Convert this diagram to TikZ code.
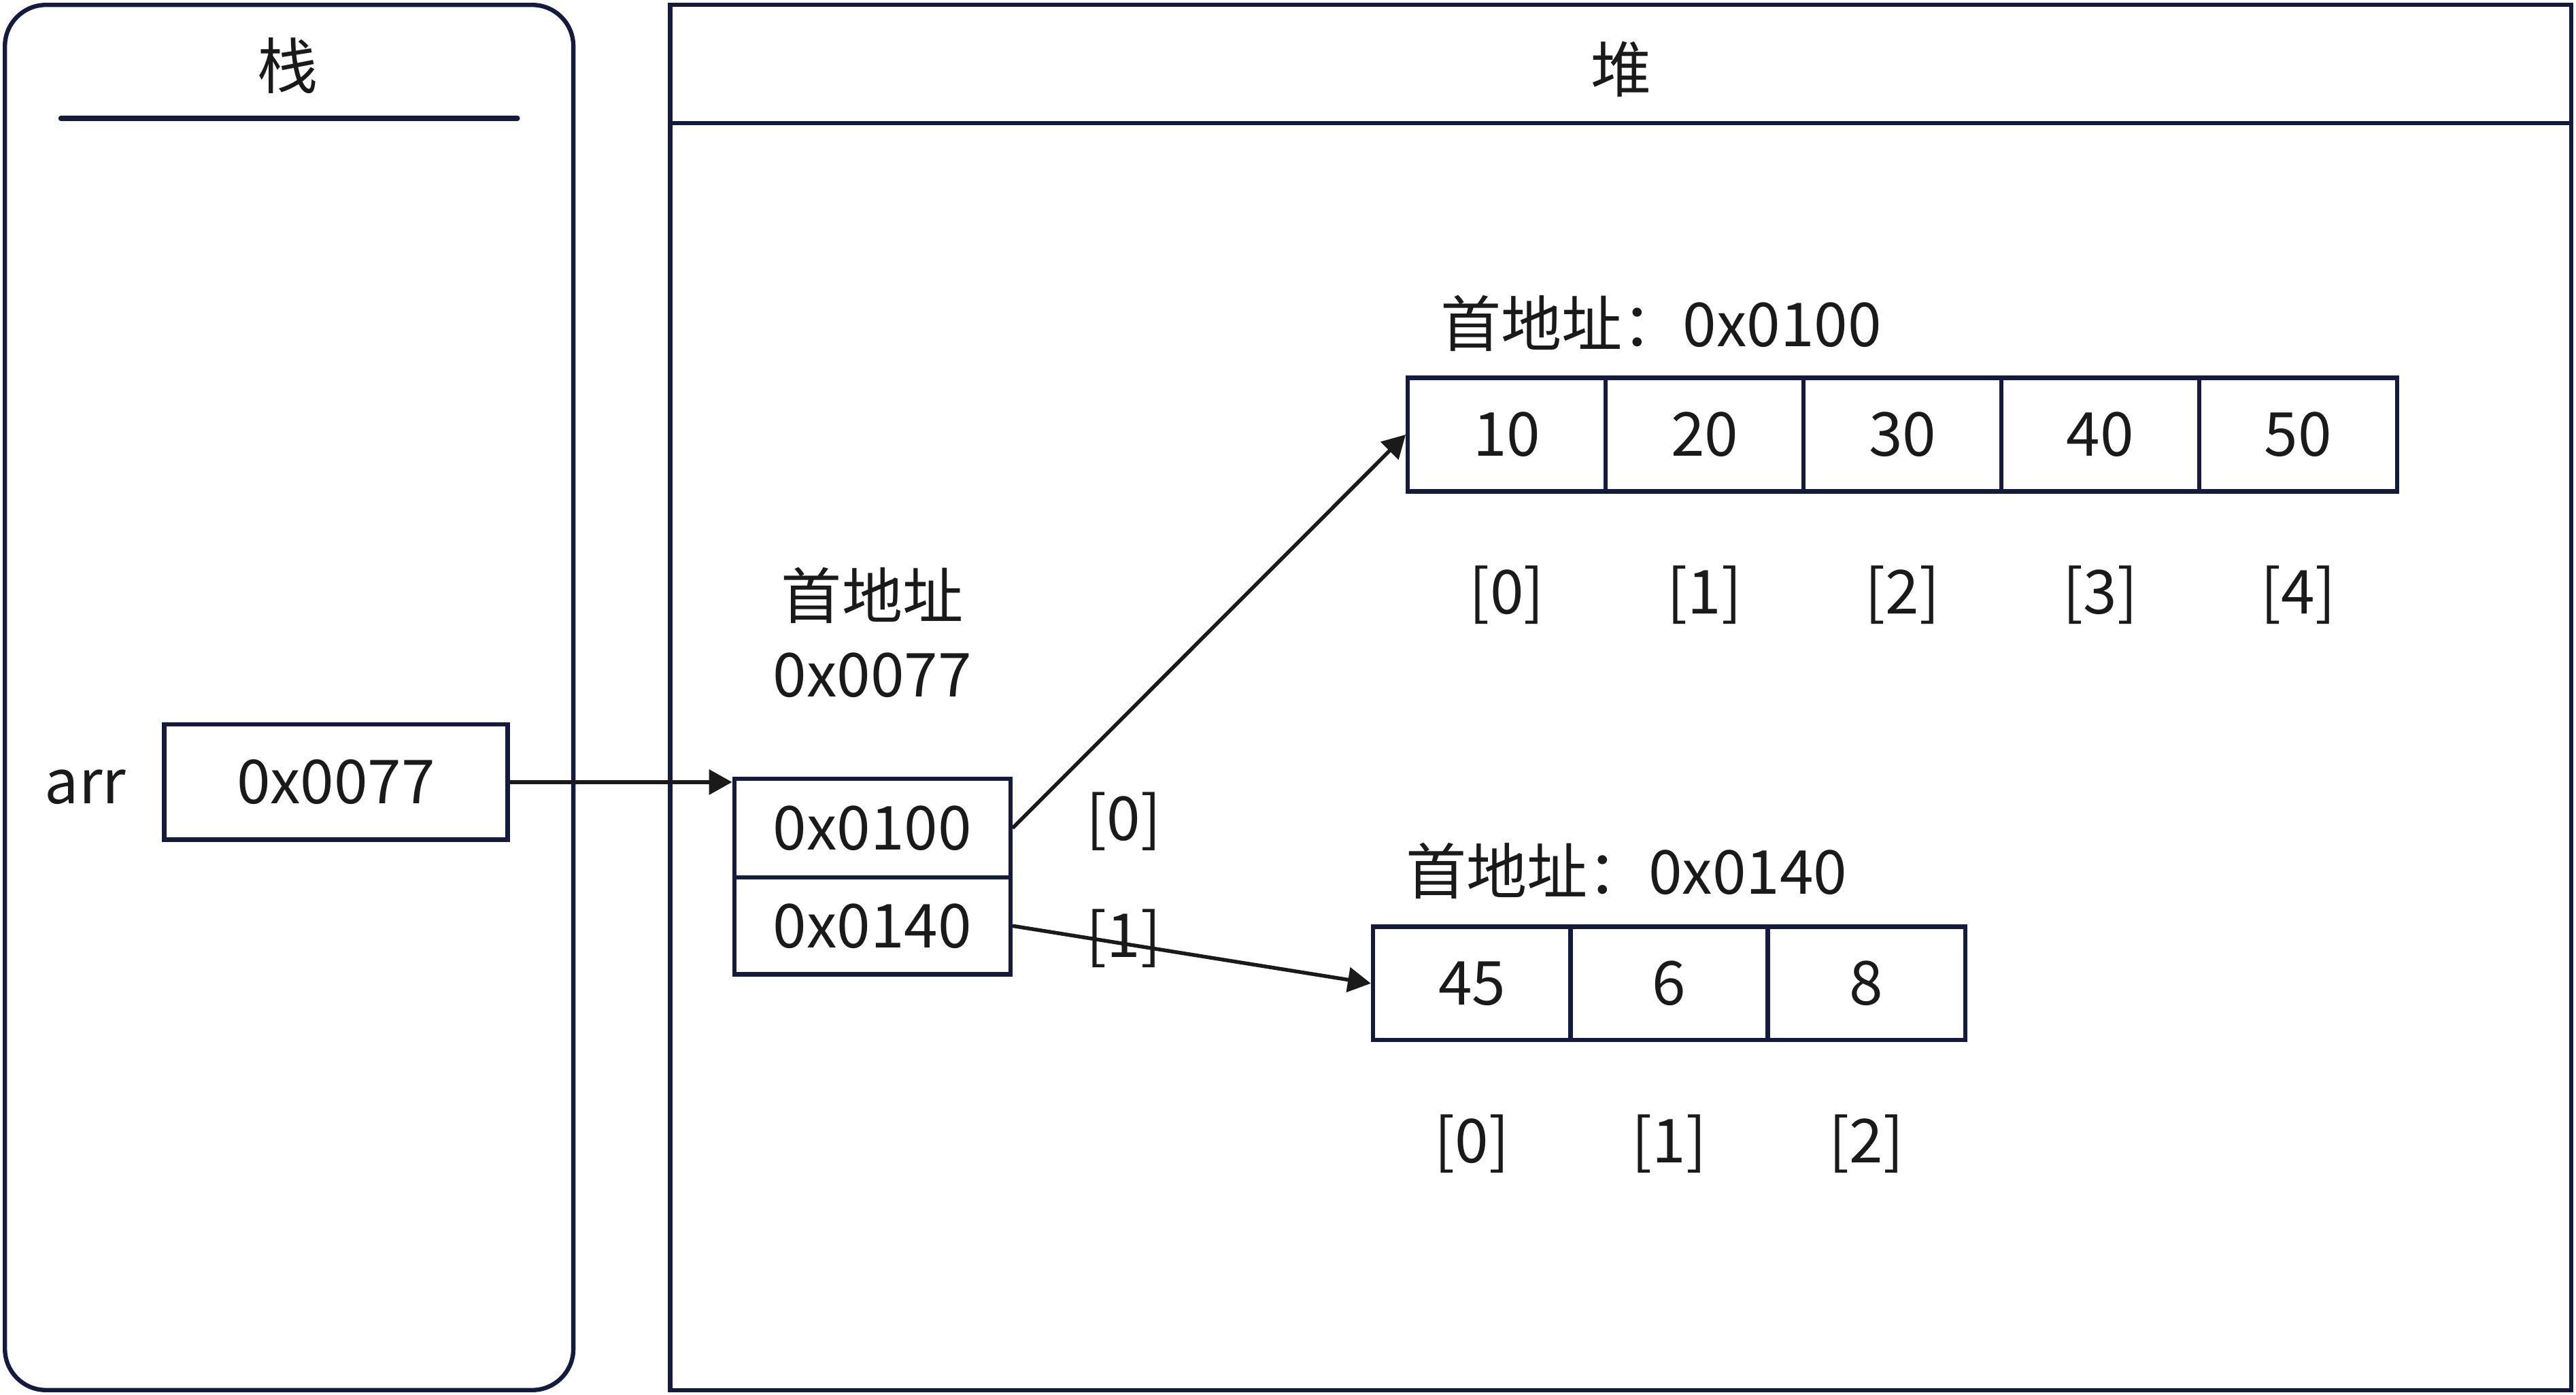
\documentclass[tikz,border=0pt]{standalone}
\usepackage{fontspec}
\setmainfont{Noto Sans CJK SC}
\usetikzlibrary{arrows.meta,positioning}
\definecolor{frameblue}{HTML}{141A40}
\definecolor{ink}{HTML}{1A1A1A}

\begin{document}
\begin{tikzpicture}[x=0.01cm,y=-0.01cm,
  cell/.style={draw=frameblue,line width=0.75pt,minimum width=1.204cm,
    minimum height=0.69cm,inner sep=0pt,text=ink,font=\fontsize{10.5}{13.6}\selectfont},
  lbl/.style={inner sep=0pt,text=ink,font=\fontsize{10.5}{13.6}\selectfont},
  ptr/.style={draw=ink,line width=0.65pt,-{Triangle[length=0.14cm,width=0.15cm]}}]
\useasboundingbox (0,0) rectangle (1568,849);

% stack and heap frames
\draw [frameblue,line width=0.75pt,rounded corners=0.25cm] (3,3) rectangle (349,846);
\draw [frameblue,line width=0.85pt,line cap=round] (37,72) -- (315,72);
\node [lbl] (stack) at (175,40) {栈};
\draw [frameblue,line width=0.75pt] (408,3) rectangle (1565,846);
\draw [frameblue,line width=0.75pt] (408,75) -- (1565,75);
\node [lbl] (heap) at (987,42) {堆};

% variable on the stack
\node [lbl] (arr) at (52,479) {arr};
\node [cell,minimum width=2.09cm,minimum height=0.70cm] (ptrval) at (204.5,476) {0x0077};

% outer array
\node [lbl,align=center] (outaddr) at (531,385) {首地址\\0x0077};
\node [cell,minimum width=1.68cm,minimum height=0.60cm] (row0) at (531,504) {0x0100};
\node [cell,minimum width=1.68cm,minimum height=0.59cm] (row1) at (531,563.5) {0x0140};
\node [lbl] (i0) at (684,500) {[0]};
\node [lbl] (i1) at (684,571) {[1]};

% first inner array
\node [lbl] (addra) at (1011,197) {首地址：0x0100};
\foreach \v [count=\i from 0] in {10,20,30,40,50} {
  \node [cell] (a\i) at (917.2+120.4*\i,264.5) {\v};
  \node [lbl] (ai\i) at (917.2+120.4*\i,362) {[\i]};
}

% second inner array
\node [lbl] (addrb) at (990,530) {首地址：0x0140};
\foreach \v [count=\i from 0] in {45,6,8} {
  \node [cell] (b\i) at (896+120*\i,598.5) {\v};
  \node [lbl] (bi\i) at (896+120*\i,696) {[\i]};
}

% pointers
\draw [ptr] (ptrval.east) -- (ptrval.east -| row0.west);
\draw [ptr] (row0.east) -- (a0.west);
\draw [ptr] (row1.east) -- (b0.west);
\end{tikzpicture}
\end{document}
